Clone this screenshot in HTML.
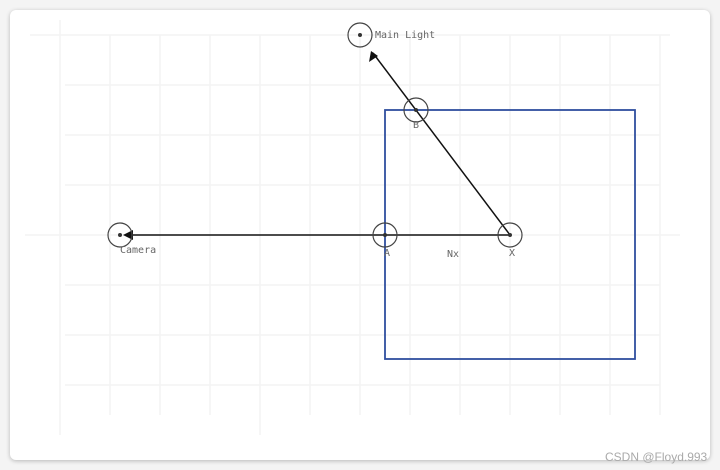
<!DOCTYPE html>
<html><head><style>
html,body{margin:0;padding:0;background:#f4f4f4;}
body{width:720px;height:470px;position:relative;overflow:hidden;}
.card{position:absolute;left:10px;top:10px;width:700px;height:450px;background:#fff;border-radius:6px;box-shadow:0 1px 4px rgba(0,0,0,0.25);}
svg{position:absolute;left:0;top:0;}
text{font-family:"DejaVu Sans Mono","Liberation Mono",monospace;font-size:10px;fill:#666;}
</style></head><body>
<div class="card"></div>
<svg width="720" height="470" viewBox="0 0 720 470">
<g stroke="#f3f3f3" stroke-width="1.5">
<line x1="30" y1="35" x2="670" y2="35"/>
<line x1="65" y1="85" x2="660" y2="85"/>
<line x1="65" y1="135" x2="660" y2="135"/>
<line x1="65" y1="185" x2="660" y2="185"/>
<line x1="25" y1="235" x2="680" y2="235"/>
<line x1="65" y1="285" x2="660" y2="285"/>
<line x1="65" y1="335" x2="660" y2="335"/>
<line x1="65" y1="385" x2="660" y2="385"/>
<line x1="60" y1="20" x2="60" y2="435"/>
<line x1="110" y1="35" x2="110" y2="415"/>
<line x1="160" y1="35" x2="160" y2="415"/>
<line x1="210" y1="35" x2="210" y2="415"/>
<line x1="260" y1="35" x2="260" y2="435"/>
<line x1="310" y1="35" x2="310" y2="415"/>
<line x1="360" y1="35" x2="360" y2="415"/>
<line x1="410" y1="35" x2="410" y2="415"/>
<line x1="460" y1="35" x2="460" y2="415"/>
<line x1="510" y1="35" x2="510" y2="415"/>
<line x1="560" y1="35" x2="560" y2="415"/>
<line x1="610" y1="35" x2="610" y2="415"/>
<line x1="660" y1="35" x2="660" y2="415"/>
</g>
<rect x="385" y="110" width="250" height="249" fill="none" stroke="#2f4f9f" stroke-width="1.8"/>
<line x1="510" y1="235" x2="128" y2="235" stroke="#333" stroke-width="1.8"/>
<polygon points="123,235 133,230 133,240" fill="#111"/>
<line x1="510" y1="235" x2="373" y2="53" stroke="#111" stroke-width="1.5"/>
<polygon points="371,51 369,62 378,56" fill="#111"/>
<g fill="none" stroke="#444" stroke-width="1.2">
<circle cx="120" cy="235" r="12"/>
<circle cx="385" cy="235" r="12"/>
<circle cx="510" cy="235" r="12"/>
<circle cx="360" cy="35" r="12"/>
<circle cx="416" cy="110" r="12"/>
</g>
<g fill="#333">
<circle cx="120" cy="235" r="2"/><circle cx="385" cy="235" r="2"/><circle cx="510" cy="235" r="2"/><circle cx="360" cy="35" r="2"/><circle cx="416" cy="110" r="2"/>
</g>
<text x="375" y="38">Main Light</text>
<text x="413" y="128">B</text>
<text x="120" y="253">Camera</text>
<text x="384" y="256">A</text>
<text x="447" y="257">Nx</text>
<text x="509" y="256">X</text>
<text x="605" y="461" style="font-family:'Liberation Sans',sans-serif;font-size:12px;fill:#aaa">CSDN @Floyd.993</text>
</svg>
</body></html>
